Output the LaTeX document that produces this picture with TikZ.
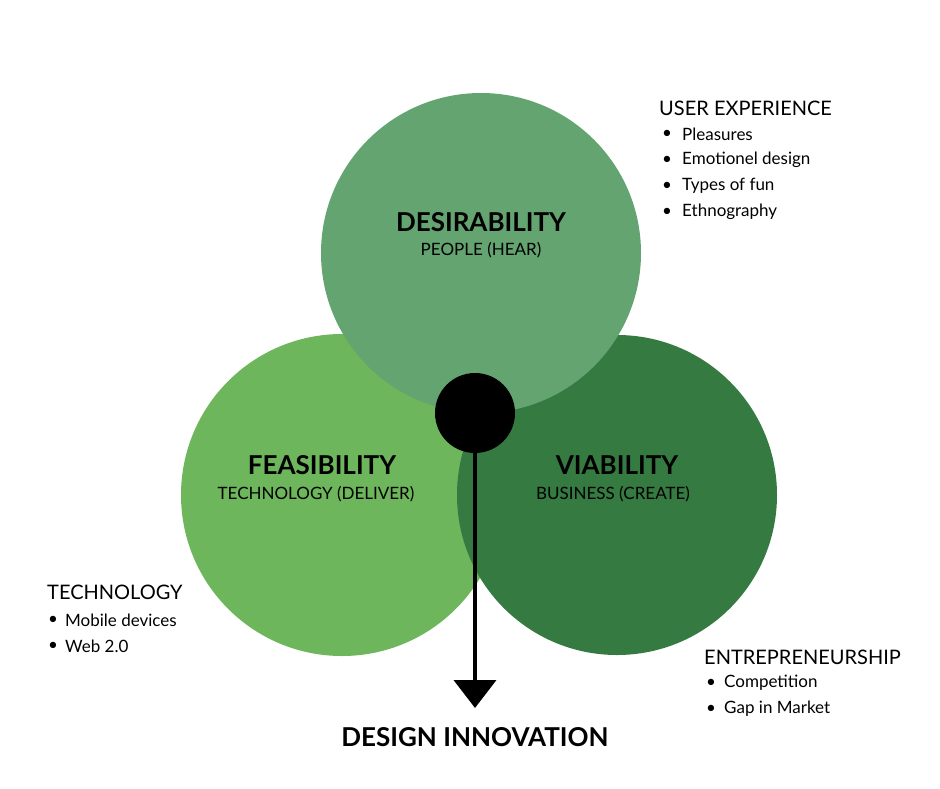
\documentclass[tikz,border=0pt]{standalone}
\usepackage{fontspec}
\setmainfont{Lato}
\usetikzlibrary{arrows.meta}
\definecolor{topc}{HTML}{64A471}
\definecolor{leftc}{HTML}{6DB65B}
\definecolor{rightc}{HTML}{357A40}
\tikzset{
  circ/.style={circle,inner sep=0pt,minimum size=#1},
  title/.style={font=\fontsize{26}{30}\selectfont\bfseries,inner sep=0pt},
  sub/.style={font=\fontsize{17}{20}\selectfont,inner sep=0pt},
  head/.style={font=\fontsize{20}{24}\selectfont,inner sep=0pt,anchor=west},
  item/.style={font=\fontsize{17}{20}\selectfont,inner sep=0pt,anchor=west},
}
\begin{document}
\begin{tikzpicture}[x=1pt,y=-1pt]
\useasboundingbox (0,0) rectangle (940,788);
\node[circ=322pt,fill=leftc] (feas) at (342,495) {};
\node[circ=320pt,fill=rightc] (via) at (617,495) {};
\node[circ=320pt,fill=topc] (des) at (481,253) {};
\node[circ=80pt,fill=black] (core) at (475,413) {};
\coordinate (tip) at (475,708);
\draw[line width=4pt,-{Triangle[width=42pt,length=28pt]}] (core.center) -- (tip);
\node[title] (t1) at (481,222) {DESIRABILITY};
\node[sub] (s1) at (481,250) {PEOPLE (HEAR)};
\node[title] (t2) at (322,465) {FEASIBILITY};
\node[sub] (s2) at (316,494) {TECHNOLOGY (DELIVER)};
\node[title] (t3) at (617,465) {VIABILITY};
\node[sub] (s3) at (613,494) {BUSINESS (CREATE)};
\node[title] (t4) at (475,737) {DESIGN INNOVATION};
% user experience
\node[head] (h1) at (659,108) {USER EXPERIENCE};
\foreach \y/\t [count=\i] in {134/Pleasures,160/Emotionel design,186/Types of fun,212/Ethnography}{
  \node[item] (ub\i) at (662,\y) {\textbullet};
  \node[item] (ut\i) at (682,\y) {\t};
}
% technology
\node[head] (h2) at (47,592) {TECHNOLOGY};
\foreach \y/\t [count=\i] in {620/Mobile devices,646/Web 2.0}{
  \node[item] (tb\i) at (48,\y) {\textbullet};
  \node[item] (tt\i) at (65,\y) {\t};
}
% entrepreneurship
\node[head] (h3) at (704,657) {ENTREPRENEURSHIP};
\foreach \y/\t [count=\i] in {683/Competition,709/Gap in Market}{
  \node[item] (eb\i) at (706,\y) {\textbullet};
  \node[item] (et\i) at (724,\y) {\t};
}
\end{tikzpicture}
\end{document}
